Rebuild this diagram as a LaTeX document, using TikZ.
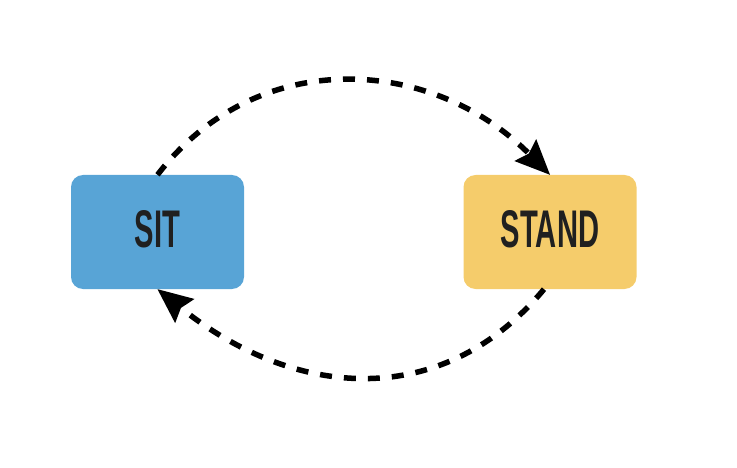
\documentclass[tikz,border=0pt]{standalone}
\usepackage{fontspec}
\usetikzlibrary{arrows.meta}
\newfontfamily\dinfont[FakeStretch=0.55]{Liberation Sans}
\definecolor{sitblue}{HTML}{58A4D6}
\definecolor{standyellow}{HTML}{F5CC6B}
\definecolor{labelgray}{HTML}{202020}
\tikzset{
  state/.style={
    rectangle, rounded corners=12pt, draw=none,
    minimum width=173pt, minimum height=114pt,
    align=center, text=labelgray, text depth=6pt,
    font=\dinfont\bfseries\fontsize{53}{60}\selectfont
  },
  arr/.style = {-{Stealth[length=35pt, width=31pt, inset=5pt, line width=0pt]},
                line width=5.5pt, dash pattern=on 12pt off 12pt},
}
\begin{document}
\begin{tikzpicture}[x=1pt, y=-1pt]
\useasboundingbox (0,0) rectangle (737,468);

%% ── States ──────────────────────────────────────────────────────────────────
\node[state, fill=sitblue]     (sit)   at (157.5, 232) {SIT};
\node[state, fill=standyellow] (stand) at (550,   232) {STAND};

%% ── sit → stand (over the top) ──────────────────────────────────────────────
\draw[arr] (sit.north) .. controls +(100,-130) and +(-118,-118) .. (stand.north);

%% ── stand → sit (under the bottom) ──────────────────────────────────────────
\draw[arr] ([xshift=-6pt]stand.south)
  .. controls +(-100,120) and +(140,112) .. (sit.south);

\end{tikzpicture}
\end{document}
